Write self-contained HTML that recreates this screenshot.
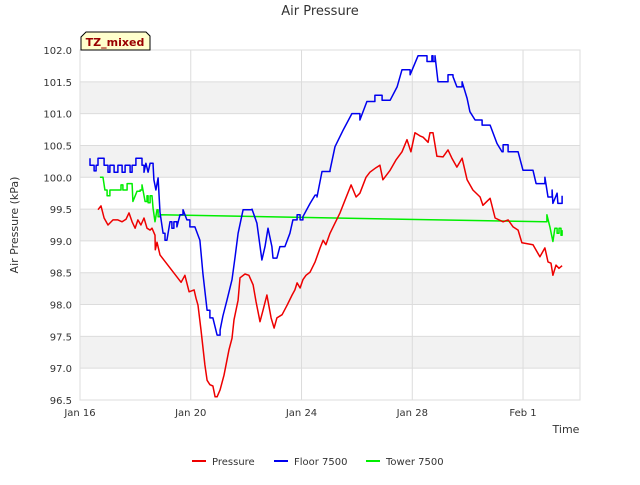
<!DOCTYPE html>
<html><head><meta charset="utf-8"><style>
body{margin:0;background:#fff;}
svg{font-family:"DejaVu Sans","Liberation Sans",sans-serif;}
</style></head><body>
<svg id="chart" width="640" height="480" xmlns="http://www.w3.org/2000/svg">
<rect width="640" height="480" fill="#fff"/>
<g id="bands"></g>
<g id="grid"></g>
<rect x="80" y="50" width="500" height="350" fill="none" stroke="#dddddd"/>
<g id="series"></g>
<g id="yticks"></g>
<g id="xticks"></g>
<text x="320" y="15" text-anchor="middle" font-size="13" fill="#333">Air Pressure</text>
<text x="18" y="225" text-anchor="middle" font-size="11" fill="#333" transform="rotate(-90 18 225)">Air Pressure (kPa)</text>
<text x="566" y="433" text-anchor="middle" font-size="11" fill="#333">Time</text>
<g>
<path d="M81 37 L86 32 L146 32 L150 36 L150 50 L81 50 Z" fill="#ffffcc" stroke="#000" stroke-width="1"/>
<text x="115" y="46" text-anchor="middle" font-size="11" font-weight="bold" fill="#990000">TZ_mixed</text>
</g>
<g id="legend"></g>
</svg>
<script>
const pDays=[0.65,0.76,0.87,1.01,1.19,1.37,1.52,1.66,1.77,1.88,1.99,2.09,2.20,2.31,2.42,2.53,2.60,2.71,2.72,2.78,2.89,3.65,3.79,3.94,4.12,4.19,4.26,4.37,4.51,4.59,4.69,4.80,4.88,4.95,5.06,5.20,5.38,5.49,5.56,5.71,5.78,5.96,6.10,6.25,6.36,6.50,6.61,6.75,6.90,7.01,7.11,7.30,7.48,7.66,7.76,7.84,7.95,8.05,8.16,8.31,8.49,8.67,8.78,8.88,9.03,9.21,9.39,9.57,9.79,9.97,10.11,10.33,10.47,10.69,10.83,10.94,11.20,11.41,11.63,11.81,11.95,12.10,12.28,12.39,12.57,12.64,12.75,12.89,13.11,13.29,13.43,13.61,13.80,13.98,14.19,14.45,14.55,14.81,14.99,15.28,15.46,15.64,15.82,15.96,16.36,16.61,16.79,16.90,17.01,17.08,17.19,17.30,17.41];
const pVals=[99.49,99.55,99.36,99.25,99.33,99.33,99.30,99.34,99.44,99.30,99.20,99.33,99.25,99.36,99.20,99.17,99.20,99.09,98.86,98.98,98.78,98.35,98.46,98.20,98.23,98.10,97.99,97.60,97.05,96.81,96.74,96.72,96.55,96.55,96.66,96.89,97.29,97.47,97.76,98.07,98.42,98.48,98.46,98.31,98.04,97.73,97.91,98.15,97.79,97.63,97.79,97.84,97.99,98.15,98.23,98.34,98.26,98.39,98.46,98.51,98.67,98.89,99.01,98.94,99.12,99.28,99.44,99.64,99.88,99.69,99.75,100.00,100.08,100.15,100.19,99.96,100.11,100.27,100.40,100.59,100.40,100.70,100.65,100.63,100.55,100.70,100.70,100.33,100.32,100.43,100.30,100.16,100.30,99.96,99.80,99.69,99.56,99.67,99.36,99.30,99.33,99.22,99.17,98.97,98.94,98.75,98.89,98.67,98.65,98.46,98.62,98.57,98.61];
const fDays=[0.36,0.36,0.47,0.51,0.58,0.65,0.79,0.87,0.98,1.01,1.08,1.19,1.23,1.34,1.37,1.48,1.52,1.63,1.73,1.81,1.88,2.02,2.13,2.24,2.31,2.38,2.46,2.53,2.64,2.67,2.74,2.82,2.89,3.00,3.07,3.14,3.25,3.32,3.39,3.50,3.61,3.72,3.86,3.97,4.15,4.33,4.44,4.59,4.69,4.80,4.95,5.06,5.16,5.31,5.49,5.60,5.71,5.89,6.21,6.39,6.57,6.68,6.79,6.93,6.97,7.11,7.22,7.40,7.58,7.69,7.84,7.95,8.05,8.31,8.49,8.56,8.74,9.03,9.21,9.50,9.82,10.11,10.36,10.65,10.91,11.20,11.45,11.63,11.92,12.21,12.46,12.53,12.71,12.75,12.82,12.93,13.18,13.29,13.47,13.61,13.80,13.98,14.08,14.27,14.52,14.81,15.06,15.24,15.28,15.46,15.82,16.00,16.36,16.47,16.72,16.79,16.90,17.05,17.08,17.23,17.26,17.41];
const fVals=[100.30,100.19,100.19,100.10,100.19,100.30,100.30,100.19,100.19,100.08,100.19,100.19,100.08,100.08,100.19,100.19,100.08,100.19,100.19,100.08,100.19,100.30,100.30,100.19,100.08,100.22,100.08,100.22,100.19,99.96,99.80,99.99,99.45,99.12,99.01,99.01,99.30,99.20,99.30,99.22,99.41,99.49,99.33,99.22,99.22,99.01,98.49,97.91,97.79,97.79,97.52,97.60,97.82,98.07,98.39,98.75,99.12,99.49,99.50,99.28,98.70,98.91,99.20,98.91,98.73,98.73,98.91,98.91,99.12,99.33,99.41,99.33,99.38,99.59,99.72,99.69,100.09,100.11,100.48,100.74,101.00,100.90,101.19,101.29,101.21,101.21,101.42,101.69,101.61,101.91,101.91,101.82,101.91,101.82,101.91,101.50,101.50,101.61,101.58,101.42,101.50,101.24,101.03,100.90,100.82,100.82,100.53,100.40,100.51,100.40,100.40,100.11,100.11,99.90,99.90,100.00,99.69,99.80,99.59,99.75,99.59,99.71];
const tDays=[0.72,0.83,0.90,0.98,1.08,1.44,1.48,1.55,1.70,1.88,1.91,2.06,2.17,2.24,2.35,2.42,2.46,2.53,2.60,2.64,2.71,2.78,2.82,2.89,16.79,16.86,16.97,17.08,17.15,17.23,17.30,17.37,17.41];
const tVals=[100.00,100.00,99.80,99.71,99.80,99.80,99.88,99.80,99.90,99.90,99.62,99.78,99.80,99.88,99.62,99.71,99.60,99.71,99.71,99.51,99.30,99.49,99.38,99.41,99.30,99.41,99.22,98.99,99.20,99.12,99.20,99.09,99.17];
const yTicks=[96.5,97.0,97.5,98.0,98.5,99.0,99.5,100.0,100.5,101.0,101.5,102.0];
const xTickDays=[0,4,8,12,16];
const xTickLabels=["Jan 16","Jan 20","Jan 24","Jan 28","Feb 1"];

const NS="http://www.w3.org/2000/svg";
const X=d=>80+d*27.69;
const Y=v=>400-(v-96.5)*(350/5.5);
function mk(tag,attrs,parent){const e=document.createElementNS(NS,tag);for(const k in attrs)e.setAttribute(k,attrs[k]);parent.appendChild(e);return e;}
const bands=document.getElementById('bands'),grid=document.getElementById('grid');
for(let i=0;i<yTicks.length-1;i++){
  if(i%2===1){const b=mk('rect',{x:80,y:Y(yTicks[i+1]),width:500,height:Y(yTicks[i])-Y(yTicks[i+1]),fill:'#f2f2f2'},bands);
  
  }
}
const yt=document.getElementById('yticks');
yTicks.forEach(v=>{
  const l=mk('line',{x1:80,x2:580,y1:Y(v),y2:Y(v),stroke:'#dcdcdc'},grid);
  
  
  const t=mk('text',{x:72,y:Y(v)+4,'text-anchor':'end','font-size':'10',fill:'#333'},yt);
  t.textContent=v.toFixed(1);
  
  
});
const xt=document.getElementById('xticks');
xTickDays.forEach((d,i)=>{
  const l=mk('line',{x1:X(d),x2:X(d),y1:50,y2:400,stroke:'#dcdcdc'},grid);
  
  
  const t=mk('text',{x:X(d),y:416,'text-anchor':'middle','font-size':'10',fill:'#333'},xt);
  t.textContent=xTickLabels[i];
  
  
});
const sg=document.getElementById('series');
function line(days,vals,color,name,step){
  const pts=[];
  days.forEach((d,i)=>{
    if(step&&i>0&&(d-days[i-1])<0.5&&Math.abs(vals[i]-vals[i-1])<0.12){pts.push(X(d).toFixed(1)+','+Y(vals[i-1]).toFixed(1));}
    pts.push(X(d).toFixed(1)+','+Y(vals[i]).toFixed(1));
  });
  const p=mk('polyline',{points:pts.join(' '),fill:'none',stroke:color,'stroke-width':1.5,'stroke-linejoin':'round'},sg);
  
  
}
line(tDays,tVals,'#00ee00','tower-7500-line',true);
line(pDays,pVals,'#ee0000','pressure-line',false);
line(fDays,fVals,'#0000ee','floor-7500-line',true);
const lg=document.getElementById('legend');
const items=[["Pressure","#ee0000",192],["Floor 7500","#0000ee",274],["Tower 7500","#00ee00",366]];
items.forEach(it=>{
  const g=mk('g',{},lg);
  
  
  mk('line',{x1:it[2],x2:it[2]+14,y1:461,y2:461,stroke:it[1],'stroke-width':2},g);
  const t=mk('text',{x:it[2]+20,y:465,'font-size':'10',fill:'#333'},g);
  t.textContent=it[0];
});
</script>
</body></html>
